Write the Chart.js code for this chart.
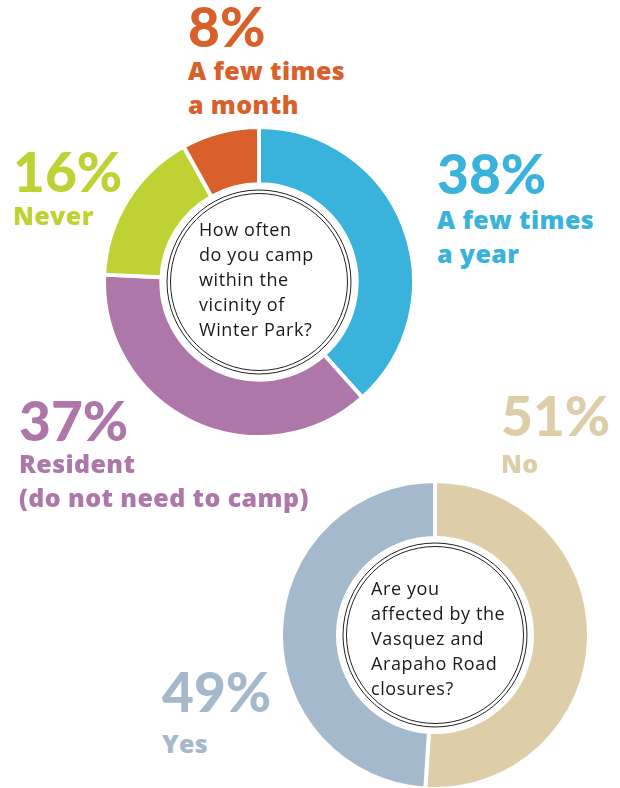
<!DOCTYPE html>
<html>
<head>
<meta charset="utf-8">
<script src="https://cdn.jsdelivr.net/npm/chart.js@4/dist/chart.umd.min.js"></script>
<style>
  html, body { margin: 0; padding: 0; background: #fff; }
  body { width: 620px; height: 788px; position: relative; overflow: hidden; font-family: Lato, "Open Sans", sans-serif; }
  canvas { position: absolute; }
  .pct { position: absolute; font-weight: 900; font-size: 55px; line-height: 55px; white-space: nowrap; }
  .lbl { position: absolute; font-family: "Open Sans", sans-serif; font-weight: 800; font-size: 25px; line-height: 34px; letter-spacing: 0.4px; white-space: nowrap; }
  .q { position: absolute; font-family: "Open Sans", sans-serif; font-size: 18px; line-height: 25px; letter-spacing: 0.6px; color: #1a1a1a; white-space: nowrap; }
</style>
</head>
<body>
<canvas id="camp" width="314" height="314" style="left:102px;top:125px"></canvas>
<canvas id="roads" width="312" height="312" style="left:279px;top:479px"></canvas>

<script>
// How often do you camp within the vicinity of Winter Park?
const campCategories = ["A few times a year", "Resident (do not need to camp)", "Never", "A few times a month"];
const campValues = [38, 37, 16, 8];
const campLines = [["A few times", "a year"], ["Resident", "(do not need to camp)"], ["Never"], ["A few times", "a month"]];
const campColors = ["#39b2dc", "#ad77aa", "#bfd233", "#d9602b"];

// Are you affected by the Vasquez and Arapaho Road closures?
const roadCategories = ["No", "Yes"];
const roadValues = [51, 49];
const roadLines = [["No"], ["Yes"]];
const roadColors = ["#ddcea9", "#a4b9cb"];

// where each label block sits: left, baseline of %, baseline of first line
const campLabelPos = [[437, 195, 229], [19, 442, 473], [13, 193, 225], [188, 48, 80]];
const roadLabelPos = [[501, 437, 473], [162, 713, 753]];

// double ring in the hole
const ringPlugin = {
    id: "ring",
    afterDraw(chart) {
        const arc = chart.getDatasetMeta(0).data[0];
        const ctx = chart.ctx;
        ctx.save();
        ctx.strokeStyle = "#222";
        ctx.lineWidth = 1;
        [92, 88.5].forEach((r) => {
            ctx.beginPath();
            ctx.arc(arc.x, arc.y, r, 0, Math.PI * 2);
            ctx.stroke();
        });
        ctx.restore();
    },
};

function makeDoughnut(id, labels, values, colors) {
    const ctx = document.getElementById(id).getContext("2d");
    new Chart(ctx, {
        type: "doughnut",
        data: {
            labels: labels,
            datasets: [
                {
                    data: values,
                    backgroundColor: colors,
                    borderColor: "#fff",
                    borderWidth: 4,
                },
            ],
        },
        options: {
            responsive: false,
            animation: false,
            cutout: "63%",
            layout: { padding: 0 },
            plugins: { legend: { display: false }, tooltip: { enabled: false } },
        },
        plugins: [ringPlugin],
    });
}

function addLabels(values, lines, colors, pos) {
    values.forEach((v, i) => {
        const [left, pctBase, lineBase] = pos[i];
        const pct = document.createElement("div");
        pct.className = "pct";
        pct.textContent = v + "%";
        pct.style.color = colors[i];
        pct.style.left = left + "px";
        pct.style.top = (pctBase - 0.887 * 55) + "px";
        document.body.appendChild(pct);

        // Open Sans: baseline sits about 1.069em below the top of a normal line box
        const lbl = document.createElement("div");
        lbl.className = "lbl";
        lbl.innerHTML = lines[i].join("<br>");
        lbl.style.color = colors[i];
        lbl.style.left = left + "px";
        lbl.style.top = (lineBase - 25 * 1.069 - (34 - 25 * 1.362) / 2) + "px";
        document.body.appendChild(lbl);
    });
}

function addQuestion(lines, left, firstBase) {
    const q = document.createElement("div");
    q.className = "q";
    q.innerHTML = lines.join("<br>");
    q.style.left = left + "px";
    q.style.top = (firstBase - 18 * 1.069 - (25 - 18 * 1.362) / 2) + "px";
    document.body.appendChild(q);
}

makeDoughnut("camp", campCategories, campValues, campColors);
makeDoughnut("roads", roadCategories, roadValues, roadColors);
addLabels(campValues, campLines, campColors, campLabelPos);
addLabels(roadValues, roadLines, roadColors, roadLabelPos);
addQuestion(["How often", "do you camp", "within the", "vicinity of", "Winter Park?"], 199, 236);
addQuestion(["Are you", "affected by the", "Vasquez and", "Arapaho Road", "closures?"], 371, 595);
</script>
</body>
</html>
